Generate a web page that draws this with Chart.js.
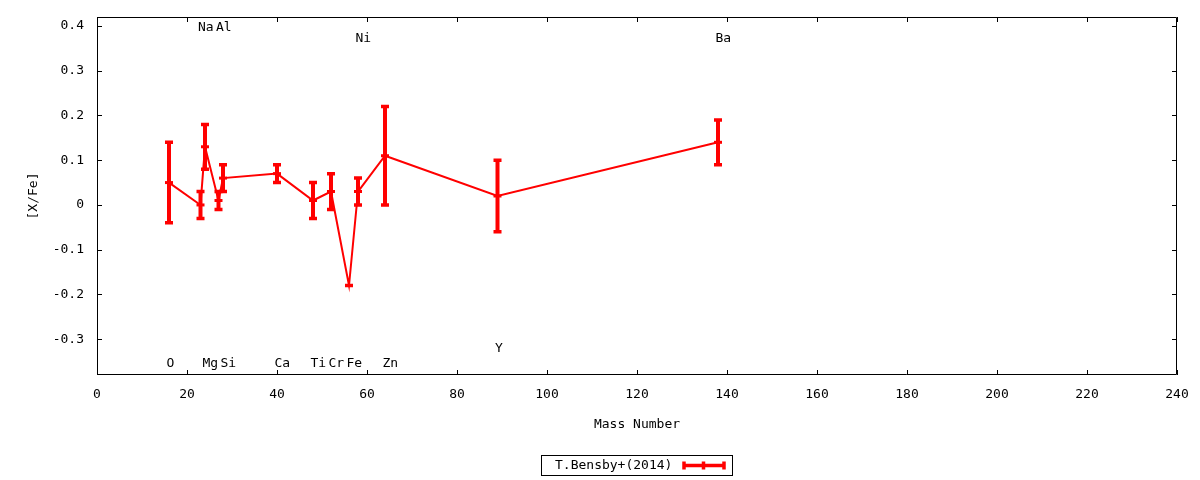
<!DOCTYPE html>
<html><head><meta charset="utf-8">
<script src="https://cdn.jsdelivr.net/npm/chart.js@4/dist/chart.umd.min.js"></script>
<style>html,body{margin:0;padding:0;background:#fff;overflow:hidden}</style>
</head><body>
<canvas id="c" width="1200" height="480"></canvas>
<script>
const elements = ['O','Na','Mg','Al','Si','Ca','Ti','Cr','Fe','Ni','Zn','Y','Ba'];
const massNumbers = [16,23,24,27,28,40,48,52,56,58,64,89,138];
const abundances = [0.05,0.00,0.13,0.01,0.06,0.07,0.01,0.03,-0.18,0.03,0.11,0.02,0.14];
const errors = [0.09,0.03,0.05,0.02,0.03,0.02,0.04,0.04,0.00,0.03,0.11,0.08,0.05];
const labelYs = [-0.354,0.396,-0.354,0.396,-0.354,-0.354,-0.354,-0.354,-0.354,0.372,-0.354,-0.321,0.372];
const xTicks = [0,20,40,60,80,100,120,140,160,180,200,220,240];
const yTicks = [-0.3,-0.2,-0.1,0,0.1,0.2,0.3,0.4];
const seriesName = 'T.Bensby+(2014)';
const xTitle = 'Mass Number';
const yTitle = '[X/Fe]';

const FONT = "'DejaVu Sans Mono', monospace";
const RED = '#ff0000';
const font13 = {family: FONT, size: 13};

const frameTicks = {
  id: 'frameTicks',
  afterDraw(chart) {
    const {ctx, chartArea: a, scales: {x, y}} = chart;
    ctx.save();
    ctx.strokeStyle = '#000';
    ctx.lineWidth = 1;
    ctx.beginPath();
    ctx.rect(Math.round(a.left) + 0.5, Math.round(a.top) + 0.5, Math.round(a.right - a.left) - 1, Math.round(a.bottom - a.top) - 1);
    const L = 5;
    x.ticks.forEach(t => {
      const px = Math.round(x.getPixelForValue(t.value)) + 0.5;
      ctx.moveTo(px, a.bottom); ctx.lineTo(px, a.bottom - L);
      ctx.moveTo(px, a.top); ctx.lineTo(px, a.top + L);
    });
    y.ticks.forEach(t => {
      const py = Math.round(y.getPixelForValue(t.value)) + 0.5;
      ctx.moveTo(a.left, py); ctx.lineTo(a.left + L, py);
      ctx.moveTo(a.right, py); ctx.lineTo(a.right - L, py);
    });
    ctx.stroke();
    ctx.restore();
  }
};

const errorBars = {
  id: 'errorBars',
  afterDatasetsDraw(chart) {
    const {ctx, scales: {x, y}} = chart;
    ctx.save();
    ctx.strokeStyle = RED;
    massNumbers.forEach((m, i) => {
      const px = x.getPixelForValue(m);
      const top = y.getPixelForValue(abundances[i] + errors[i]);
      const bot = y.getPixelForValue(abundances[i] - errors[i]);
      ctx.lineWidth = 4;
      ctx.beginPath();
      ctx.moveTo(px, top); ctx.lineTo(px, bot);
      ctx.stroke();
      ctx.lineWidth = 3.5;
      ctx.beginPath();
      ctx.moveTo(px - 4, top); ctx.lineTo(px + 4, top);
      ctx.moveTo(px - 4, bot); ctx.lineTo(px + 4, bot);
      ctx.stroke();
    });
    ctx.restore();
  }
};

const elementLabels = {
  id: 'elementLabels',
  afterDraw(chart) {
    const {ctx, scales: {x, y}} = chart;
    ctx.save();
    ctx.fillStyle = '#000';
    ctx.font = '13px ' + FONT;
    ctx.textAlign = 'left';
    ctx.textBaseline = 'middle';
    elements.forEach((el, i) => {
      ctx.fillText(el, x.getPixelForValue(massNumbers[i]) - 2.5, y.getPixelForValue(labelYs[i]));
    });
    ctx.restore();
  }
};

const keyBox = {
  id: 'keyBox',
  afterDraw(chart) {
    const {ctx} = chart;
    ctx.save();
    ctx.strokeStyle = '#000';
    ctx.lineWidth = 1;
    ctx.strokeRect(541.5, 455.5, 191, 20);
    ctx.fillStyle = '#000';
    ctx.font = '13px ' + FONT;
    ctx.textAlign = 'left';
    ctx.textBaseline = 'middle';
    ctx.fillText(seriesName, 555, 465.5);
    ctx.strokeStyle = RED;
    ctx.lineWidth = 3.5;
    ctx.beginPath();
    ctx.moveTo(683, 465.5); ctx.lineTo(725, 465.5);
    ctx.stroke();
    ctx.lineWidth = 3.5;
    ctx.beginPath();
    [684, 703.5, 724].forEach(px => { ctx.moveTo(px, 461.5); ctx.lineTo(px, 469.5); });
    ctx.stroke();
    ctx.restore();
  }
};

function zeroPad(s) { s.paddingTop = 0; s.paddingBottom = 0; s.paddingLeft = 0; s.paddingRight = 0; }

new Chart(document.getElementById('c'), {
  type: 'scatter',
  data: {
    datasets: [{
      label: seriesName,
      data: massNumbers.map((m, i) => ({x: m, y: abundances[i]})),
      showLine: true,
      tension: 0,
      borderColor: RED,
      backgroundColor: RED,
      borderWidth: 2,
      pointStyle: 'line',
      pointRadius: 4,
      pointBorderWidth: 3,
      pointBorderColor: RED,
      pointHoverRadius: 4
    }]
  },
  options: {
    responsive: false,
    devicePixelRatio: 1,
    animation: false,
    events: [],
    layout: {padding: {top: 17, right: 23, left: 0, bottom: 0}},
    plugins: {legend: {display: false}, tooltip: {enabled: false}},
    scales: {
      x: {
        type: 'linear', min: 0, max: 240,
        afterBuildTicks: s => { s.ticks = xTicks.map(v => ({value: v})); },
        afterFit: s => { s.height = 105; zeroPad(s); },
        grid: {display: false, drawTicks: false, tickLength: 0},
        border: {display: false},
        ticks: {font: font13, color: '#000', padding: 12, maxRotation: 0, callback: v => String(v)},
        title: {display: true, text: xTitle, font: font13, color: '#000', padding: {top: 0, bottom: 48}}
      },
      y: {
        type: 'linear', min: -0.38, max: 0.42,
        afterBuildTicks: s => { s.ticks = yTicks.map(v => ({value: v})); },
        afterFit: s => { s.width = 97; zeroPad(s); },
        grid: {display: false, drawTicks: false, tickLength: 0},
        border: {display: false},
        ticks: {font: font13, color: '#000', padding: 13, callback: v => String(+v.toFixed(1))},
        title: {display: true, text: yTitle, font: font13, color: '#000', padding: {top: 26, bottom: 0}}
      }
    }
  },
  plugins: [frameTicks, errorBars, elementLabels, keyBox]
});
</script>
</body></html>
